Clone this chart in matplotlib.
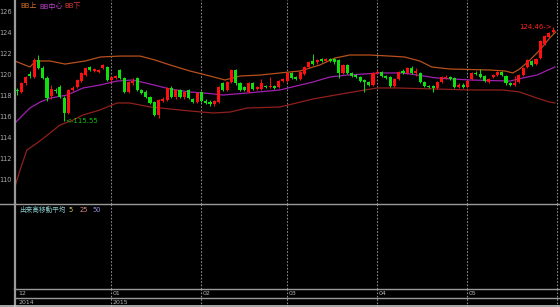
import matplotlib
matplotlib.use("Agg")
import matplotlib.pyplot as plt
from matplotlib.lines import Line2D
import numpy as np

plt.rcParams['font.family'] = ['DejaVu Sans', 'Noto Sans CJK JP']

# ---------------- data ----------------
opens = [118.5,118.3,119.1,120.0,119.7,121.3,120.6,119.6,117.9,118.5,
         118.8,117.7,116.3,118.5,118.8,119.3,119.9,120.7,120.3,120.2,
         120.6,120.7,119.4,119.6,120.4,119.6,118.3,119.1,119.6,118.5,
         118.3,117.8,117.3,116.1,117.4,117.5,118.7,117.8,118.5,117.8,
         118.5,117.6,117.3,118.3,117.4,117.3,117.1,117.3,119.1,118.5,
         119.2,120.4,119.1,118.8,118.3,119.1,118.6,118.6,118.9,118.8,
         118.9,118.8,119.3,119.3,120.1,119.7,119.5,120.0,120.7,121.2,
         121.1,121.4,121.2,121.4,121.4,121.3,120.1,120.9,120.1,119.9,
         119.7,119.4,119.2,119.0,120.1,120.2,119.8,119.7,118.9,119.5,
         120.3,120.1,120.6,120.1,120.1,119.2,118.9,118.9,118.7,119.2,
         119.6,119.7,119.6,118.8,119.0,118.8,119.5,120.1,120.0,119.8,
         119.2,119.7,119.9,120.2,119.8,119.1,119.0,119.2,119.9,120.7,
         121.2,121.0,121.5,122.9,123.5,124.0]
closes = [118.4,119.1,119.7,119.8,121.3,120.6,119.6,117.7,118.6,118.4,
          117.8,116.3,118.5,118.7,119.4,120.1,120.6,120.4,120.5,120.4,
          120.9,119.4,119.7,119.8,119.6,118.3,119.2,119.3,118.5,118.2,
          117.8,117.2,116.1,117.5,117.6,118.7,117.8,118.5,117.8,118.3,
          117.7,117.3,118.2,117.4,117.2,117.1,117.4,118.8,118.5,119.2,
          120.4,119.1,118.5,118.5,119.1,118.6,118.8,119.1,118.8,118.9,
          118.7,119.3,119.5,120.1,119.6,119.5,120.2,120.7,121.1,121.0,
          121.3,121.2,121.4,121.2,121.1,120.1,120.9,120.1,119.8,119.7,
          119.3,119.2,119.0,120.1,120.2,119.8,119.6,118.9,119.5,120.2,
          120.1,120.6,120.1,120.3,119.2,118.9,118.8,118.7,119.2,119.7,
          119.7,119.5,118.8,119.0,118.8,119.3,120.1,120.0,119.7,119.3,
          119.5,119.9,120.2,119.9,119.1,119.0,119.1,119.9,120.6,121.3,
          120.9,121.4,123.1,123.6,123.9,124.2]
highs = [118.7,119.2,119.8,120.3,121.5,121.8,120.8,119.8,119.0,118.7,
         119.0,117.9,118.6,118.9,119.5,120.2,120.7,120.8,120.6,120.5,
         121.0,120.8,119.8,119.9,120.5,119.7,119.3,119.6,119.7,118.6,
         118.5,117.9,117.4,117.6,117.8,118.8,118.9,118.6,118.6,118.4,
         118.6,117.7,118.3,118.4,117.6,117.5,117.5,118.9,119.2,119.3,
         120.5,120.5,119.2,118.9,119.2,119.2,118.9,119.5,119.0,119.7,
         119.0,119.4,119.6,120.2,120.2,119.8,120.3,120.8,121.2,121.9,
         121.4,121.5,121.5,121.5,121.5,121.4,121.0,121.0,120.2,120.0,
         119.8,119.5,119.3,120.2,120.4,120.3,119.9,119.8,119.6,120.3,
         120.5,120.7,120.8,120.6,120.2,119.3,119.0,119.0,119.3,119.8,
         119.9,119.8,119.7,119.1,119.1,119.4,120.2,120.3,120.5,119.9,
         119.6,120.0,120.3,120.3,119.9,119.2,119.8,120.0,120.7,121.4,
         121.3,121.5,123.2,123.7,124.0,124.46]
lows = [118.0,118.2,119.0,119.6,119.6,120.5,119.5,117.4,117.6,118.2,
        117.7,115.55,116.2,118.4,118.7,119.2,119.8,120.3,120.2,120.1,
        120.5,119.3,119.2,119.5,119.5,118.2,118.2,119.0,118.4,118.1,
        117.7,117.1,116.0,115.8,117.3,117.4,117.7,117.6,117.7,117.6,
        117.6,117.2,117.2,117.3,117.1,117.0,117.0,117.2,118.4,118.4,
        119.1,119.0,118.4,118.4,118.2,118.5,118.5,118.5,118.7,118.7,
        118.6,118.7,119.2,119.2,119.5,119.4,119.4,119.9,120.6,120.9,
        121.0,121.1,121.1,121.1,121.0,119.6,120.0,120.0,119.7,119.6,
        119.2,118.3,118.9,118.9,120.0,119.7,119.5,118.8,118.8,119.4,
        120.0,120.0,120.0,119.8,119.1,118.8,118.7,118.3,118.6,119.1,
        119.5,119.4,118.7,118.7,118.7,118.7,119.4,119.9,119.6,119.2,
        119.1,119.6,119.8,119.8,119.0,118.9,118.9,119.1,119.8,120.6,
        120.8,120.9,121.4,122.8,123.4,123.9]

upper_idx = [-0.5,3.0,4.4,7.7,11.2,15.9,19.4,24.0,28.7,32.2,35.7,40.3,45.0,48.5,
             52.0,56.6,61.3,66.0,70.6,74.1,77.6,82.3,86.9,90.4,93.9,96.7,100.9,
             105.6,110.3,113.8,115.6,117.2,119.6,121.9,124.2,125.6]
upper_val = [121.24,120.67,121.24,121.24,120.95,121.24,121.62,121.71,121.71,121.33,
             120.86,120.29,119.81,119.43,119.81,119.90,120.10,120.29,120.86,121.52,
             121.81,121.81,121.71,121.62,121.24,120.67,120.48,120.43,120.38,120.29,
             120.10,120.48,121.33,122.29,123.43,124.00]
mid_idx = [-0.5,3.0,5.4,7.7,11.7,15.4,19.3,23.3,27.0,31.0,35.7,40.3,45.0,48.0,53.6,
           61.3,69.0,72.9,76.9,84.6,90.0,97.9,105.6,114.9,117.9,121.2,125.4]
mid_val = [115.33,116.76,117.33,117.71,118.00,118.67,118.95,119.33,119.43,119.05,
           118.57,118.29,118.14,118.00,118.19,118.48,119.24,119.71,119.90,120.10,
           120.10,119.62,119.43,119.33,119.62,119.90,120.67]
lower_idx = [-0.5,0.7,2.3,4.7,7.7,10.0,13.1,15.4,19.3,23.3,26.3,31.0,35.7,40.3,45.7,
             49.7,53.6,61.3,69.0,76.9,83.9,88.6,97.9,105.6,113.3,117.2,121.2,124.2,125.4]
lower_val = [109.24,110.86,112.76,113.43,114.38,115.14,115.62,116.10,116.57,117.24,
             117.24,116.86,116.67,116.48,116.29,116.38,116.76,116.86,117.62,118.19,
             118.67,118.67,118.57,118.48,118.48,118.29,117.71,117.33,117.24]

y_ticks = [110, 112, 114, 116, 118, 120, 122, 124, 126]
month_start = [0, 22, 43, 63, 84, 105, 126]
month_labels = ["12", "01", "02", "03", "04", "05", ""]
year_labels = ["2014", "2015", "", "", "", "", ""]
low_label = "<-115.55"
high_label = "124.46->"

# ---------------- figure ----------------
W, H = 560, 307
fig = plt.figure(figsize=(W/100, H/100), dpi=100, facecolor='black')

def rect(x0, y0, x1, y1):
    return [x0/W, 1 - y1/H, (x1-x0)/W, (y1-y0)/H]

XMIN, XMAX = -0.47, 126.6
grid_c = '#8a8a8a'
axis_c = '#9a9a9a'

ax1 = fig.add_axes(rect(15, 0, 560, 204), facecolor='black')
ax2 = fig.add_axes(rect(15, 204, 560, 289), facecolor='black')
ax3 = fig.add_axes(rect(15, 289, 560, 307), facecolor='black')

for ax in (ax1, ax2, ax3):
    ax.set_xlim(XMIN, XMAX)
    for s in ax.spines.values():
        s.set_visible(False)
    ax.spines['left'].set_visible(True)
    ax.spines['left'].set_color(axis_c)
    ax.spines['left'].set_linewidth(1.6)
    ax.set_xticks([])
    for m in month_start[1:]:
        ax.axvline(m, color=grid_c, lw=0.8, ls=(0, (1.5, 1.5)), zorder=0)

ax1.set_ylim(107.62, 127.05)
ax1.set_yticks(y_ticks)
ax1.set_yticklabels([str(v) for v in y_ticks], color='#a8a8a8', fontsize=4.8)
ax1.tick_params(axis='y', length=0, pad=2)
ax2.set_yticks([]); ax3.set_yticks([])
ax2.set_ylim(0, 1); ax3.set_ylim(0, 1)

# bands
ax1.plot(upper_idx, upper_val, color='#b8501c', lw=0.9, zorder=2)
ax1.plot(mid_idx, mid_val, color='#a020b0', lw=0.9, zorder=2)
ax1.plot(lower_idx, lower_val, color='#90201c', lw=0.9, zorder=2)

# candles
idx = np.arange(len(opens))
up_c, dn_c = '#ff1010', '#10e010'
for i in idx:
    o, h, l, c = opens[i], highs[i], lows[i], closes[i]
    col = up_c if c >= o else dn_c
    ax1.vlines(i, l, h, color=col, lw=0.7, zorder=3)
    bot, top = min(o, c), max(o, c)
    ax1.bar(i, max(top - bot, 0.06), bottom=bot, width=0.72, color=col,
            edgecolor=col, linewidth=0, zorder=4)

# high / low annotations
lo_i = int(np.argmin(lows)); hi_i = int(np.argmax(highs))
ax1.text(lo_i + 0.2, lows[lo_i], low_label, color='#10c010', fontsize=5,
         ha='left', va='center', zorder=5)
ax1.text(hi_i - 0.3, highs[hi_i], high_label, color='#ff2020', fontsize=5,
         ha='right', va='center', zorder=5)

# legend
fig.text(20/W, 1 - 6/H, "BB上", color='#d8702c', fontsize=5, va='center',
         family=['DejaVu Sans', 'Noto Sans CJK JP'])
fig.text(39/W, 1 - 6/H, "BB中心", color='#c040d0', fontsize=5, va='center',
         family=['DejaVu Sans', 'Noto Sans CJK JP'])
fig.text(64/W, 1 - 6/H, "BB下", color='#e03838', fontsize=5, va='center',
         family=['DejaVu Sans', 'Noto Sans CJK JP'])

# volume panel caption
ax2.text(0.008, 0.93, "出来高移動平均", transform=ax2.transAxes, color='#88c8c8',
         fontsize=4.8, va='center', family=['Noto Sans CJK JP', 'DejaVu Sans'])
ax2.text(0.098, 0.93, "5", transform=ax2.transAxes, color='#d8d860', fontsize=4.8, va='center')
ax2.text(0.118, 0.93, "25", transform=ax2.transAxes, color='#e08888', fontsize=4.8, va='center')
ax2.text(0.142, 0.93, "50", transform=ax2.transAxes, color='#9090e0', fontsize=4.8, va='center')

# month/year labels
for m, ml, yl in zip(month_start, month_labels, year_labels):
    if ml:
        ax3.text(m + 0.3, 0.74, ml, color='#b0b0b0', fontsize=4.5, va='center', ha='left')
    if yl:
        ax3.text(m + 0.3, 0.25, yl, color='#b0b0b0', fontsize=4.5, va='center', ha='left')

# horizontal separators
fig.add_artist(Line2D([0, 1], [1 - 204/H, 1 - 204/H], color=axis_c, lw=1.0))
fig.add_artist(Line2D([15/W, 1], [1 - 289/H, 1 - 289/H], color=axis_c, lw=1.0))
fig.add_artist(Line2D([15/W, 1], [1 - 298/H, 1 - 298/H], color=axis_c, lw=1.0))
fig.add_artist(Line2D([0, 1], [1 - 306/H, 1 - 306/H], color='#c8c8c8', lw=1.2))

fig.savefig("out.png", dpi=100, facecolor='black')
